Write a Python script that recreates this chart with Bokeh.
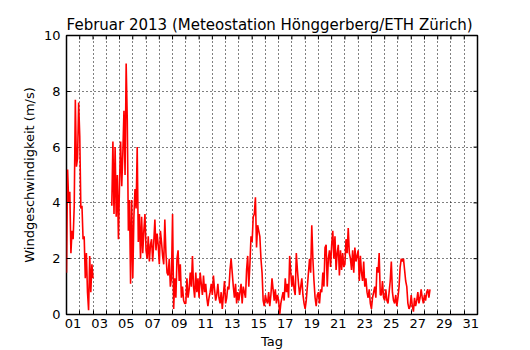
import math
from bokeh.plotting import figure
from bokeh.models import FixedTicker, Range1d, ColumnDataSource
from bokeh.embed import file_html
from bokeh.resources import INLINE

NaN = float("nan")

title_text = "Februar 2013  (Meteostation Hönggerberg/ETH Zürich)"
x_label = "Tag"
y_label = "Windgeschwindigkeit (m/s)"

# measurements every 2 hours, starting 1 Feb 00:00 (day 1.0)
first_day = 1.0
samples_per_day = 12
wind_ms = [
    1.5, 5.2, 4.0, 4.4, 2.2, 3.0, 2.7, 3.9, 7.7, 5.3, 5.6, 7.6,   # 01
    6.4, 3.8, 3.9, 2.7, 2.8, 1.3, 2.2, 0.8, 0.15, 2.1, 0.8, 1.8,  # 02
    1.3, NaN, NaN, NaN, NaN, NaN, NaN, NaN, NaN, NaN, NaN, NaN,   # 03
    NaN, NaN, NaN, NaN, NaN, 3.9, 6.2, 3.6, 6.0, 3.5, 5.0, 2.7,   # 04
    4.7, 6.2, 4.6, 5.8, 7.3, 5.0, 9.0, 7.0, 3.0, 4.1, 1.1, 4.1,   # 05
    1.3, 3.5, 4.5, 3.8, 6.0, 2.6, 3.6, 2.0, 3.5, 2.2, 3.0, 3.6,   # 06
    2.3, 2.0, 2.8, 1.9, 2.5, 2.7, 1.9, 2.6, 3.4, 2.3, 2.9, 2.5,   # 07
    1.8, 3.0, 2.6, 2.1, 1.8, 3.4, 2.2, 1.5, 1.4, 2.0, 1.0, 1.3,   # 08
    3.6, 0.2, 1.3, 0.6, 2.0, 2.3, 1.2, 1.8, 0.6, 1.0, 0.5, 0.4,   # 09
    0.4, 1.3, 0.6, 0.9, 1.5, 1.0, 2.1, 1.0, 0.6, 1.5, 0.8, 1.3,   # 10
    0.6, 1.5, 1.1, 0.7, 1.4, 0.8, 1.1, 0.6, 0.3, 0.6, 0.8, 1.1,   # 11
    0.7, 1.4, 0.9, 0.5, 0.7, 1.1, 0.6, 0.4, 0.8, 0.2, 0.7, 1.2,   # 12
    0.4, 0.6, 1.0, 0.9, 1.6, 2.0, 1.5, 1.0, 0.6, 1.1, 0.4, 0.8,   # 13
    0.5, 0.8, 1.1, 0.4, 1.0, 0.8, 0.6, 1.6, 2.1, 1.0, 1.8, 2.8,   # 14
    2.6, 3.5, 3.6, 4.2, 2.4, 3.2, 3.0, 2.8, 2.0, 1.5, 0.5, 0.3,   # 15
    0.7, 0.5, 0.4, 0.8, 0.3, 0.7, 1.3, 0.9, 0.5, 0.9, 0.4, 0.7,   # 16
    0.5, 0.0, 0.4, 0.6, 0.8, 0.5, 1.3, 0.8, 1.1, 0.6, 2.1, 1.5,   # 17
    1.0, 1.4, 0.9, 0.7, 2.2, 1.6, 1.1, 0.7, 1.0, 1.3, 0.7, 0.4,   # 18
    0.2, 0.5, 1.0, 1.5, 2.0, 1.5, 3.2, 2.0, 1.2, 0.6, 0.3, 0.7,   # 19
    0.8, 0.4, 0.9, 0.8, 1.5, 1.0, 2.4, 2.5, 1.0, 2.0, 2.3, 1.7,   # 20
    2.5, 3.0, 2.0, 2.8, 1.6, 2.2, 2.5, 1.4, 2.3, 1.6, 2.2, 1.7,   # 21
    1.8, 2.7, 2.2, 3.1, 2.2, 2.0, 1.6, 2.3, 1.5, 2.4, 1.9, 2.1,   # 22
    2.3, 1.2, 2.1, 1.5, 1.2, 1.9, 1.0, 1.3, 0.8, 0.6, 0.9, 0.4,   # 23
    0.2, 0.6, 0.8, 1.0, 0.6, 1.7, 1.5, 2.2, 0.7, 0.7, 1.2, 0.6,   # 24
    0.5, 0.9, 0.5, 0.4, 0.8, 1.2, 1.9, 0.8, 0.5, 0.4, 0.7, 0.3,   # 25
    0.6, 1.0, 1.7, 2.0, 1.9, 2.0, 1.6, 1.2, 1.0, 0.4, 0.2, 0.3,   # 26
    0.7, 0.3, 0.1, 0.6, 0.3, 0.5, 0.8, 0.4, 0.6, 0.9, 0.6, 0.4,   # 27
    0.7, 0.5, 0.8, 0.9, 0.6, 0.9,                                 # 28
]

label_days = [1, 3, 5, 7, 9, 11, 13, 15, 17, 19, 21, 23, 25, 27, 29, 31]
day_labels = ["01", "03", "05", "07", "09", "11", "13", "15", "17", "19",
              "21", "23", "25", "27", "29", "31"]
day_bounds = list(range(1, 33))
y_ticks = [0, 2, 4, 6, 8, 10]
x_start, x_end = 1, 32
y_start, y_end = 0, 10

days = [first_day + i / samples_per_day for i in range(len(wind_ms))]
source = ColumnDataSource(data=dict(day=days, wind=wind_ms))

FONT = "DejaVu Sans"

p = figure(
    frame_width=411, frame_height=279,
    x_range=Range1d(x_start, x_end), y_range=Range1d(y_start, y_end),
    output_backend="svg", toolbar_location=None,
    title=title_text,
    min_border_left=66, min_border_top=35, min_border_right=20, min_border_bottom=8,
)
p.background_fill_color = "white"
p.border_fill_color = "white"
p.outline_line_color = "black"
p.outline_line_width = 1.5

p.title.text_font = FONT
p.title.text_font_size = "15px"
p.title.text_font_style = "normal"
p.title.text_color = "black"
p.title.align = "center"
p.title.standoff = 4

x_ticker = FixedTicker(ticks=[d + 0.5 for d in label_days], minor_ticks=day_bounds)
y_ticker = FixedTicker(ticks=y_ticks, minor_ticks=[])

xa = p.xaxis[0]
xa.ticker = x_ticker
xa.major_label_overrides = {d + 0.5: s for d, s in zip(label_days, day_labels)}
xa.major_tick_in = 0
xa.major_tick_out = 0
xa.minor_tick_in = 4
xa.minor_tick_out = 0
xa.axis_line_color = None
xa.minor_tick_line_color = "black"
xa.major_label_standoff = 4
xa.major_label_text_font = FONT
xa.major_label_text_font_size = "13px"
xa.major_label_text_color = "black"
xa.axis_label = x_label
xa.axis_label_text_font = FONT
xa.axis_label_text_font_size = "13px"
xa.axis_label_text_font_style = "normal"
xa.axis_label_text_color = "black"
xa.axis_label_standoff = 3

ya = p.yaxis[0]
ya.ticker = y_ticker
ya.major_tick_in = 4
ya.major_tick_out = 0
ya.minor_tick_in = 0
ya.minor_tick_out = 0
ya.axis_line_color = None
ya.major_tick_line_color = "black"
ya.major_label_standoff = 6
ya.major_label_text_font = FONT
ya.major_label_text_font_size = "13px"
ya.major_label_text_color = "black"
ya.axis_label = y_label
ya.axis_label_text_font = FONT
ya.axis_label_text_font_size = "13px"
ya.axis_label_text_font_style = "normal"
ya.axis_label_text_color = "black"
ya.axis_label_standoff = 4

# inward ticks on the top and right frame edges
p.ray(x=day_bounds, y=[y_end] * len(day_bounds), length=4, length_units="screen",
      angle=-math.pi / 2, line_color="black", line_width=1)
p.ray(x=[x_end] * len(y_ticks), y=y_ticks, length=4, length_units="screen",
      angle=math.pi, line_color="black", line_width=1)

p.xgrid.ticker = x_ticker
p.xgrid.grid_line_color = None
p.xgrid.minor_grid_line_color = "black"
p.xgrid.minor_grid_line_dash = "1 3"
p.xgrid.minor_grid_line_width = 1
p.ygrid.ticker = y_ticker
p.ygrid.grid_line_color = "black"
p.ygrid.grid_line_dash = "1 3"
p.ygrid.grid_line_width = 1

p.line("day", "wind", source=source, line_color="#ff0000", line_width=1.6)

open("out.html", "w").write(file_html(p, INLINE))
